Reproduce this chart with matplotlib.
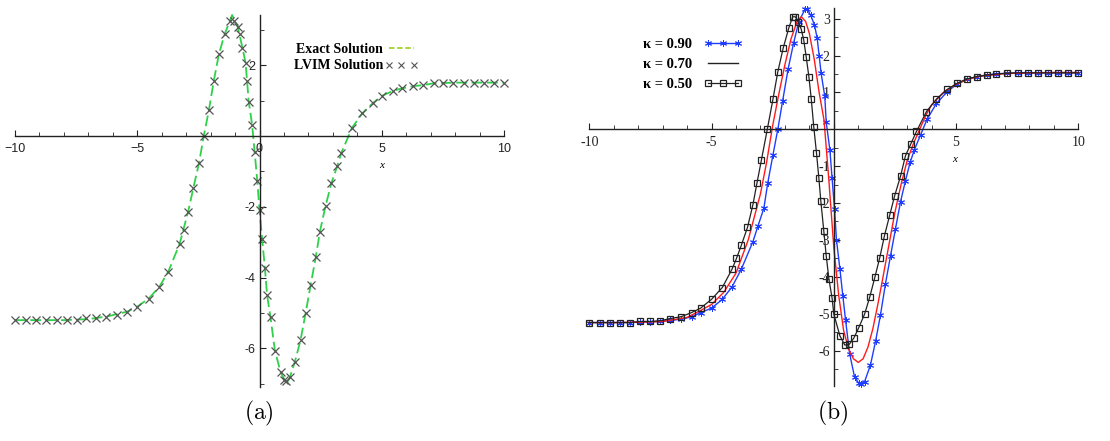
import matplotlib
matplotlib.use("Agg")
import matplotlib.pyplot as plt
from matplotlib.lines import Line2D

plt.rcParams['mathtext.fontset'] = 'cm'

# (a) exact solution vs LVIM solution
lvim_x = [-9.98, -9.57, -9.16, -8.75, -8.28, -7.87, -7.46, -7.08, -6.67, -6.26,
          -5.82, -5.41, -5.0, -4.53, -4.10, -3.73, -3.27, -3.10, -2.92, -2.71,
          -2.47, -2.28, -2.07, -1.87, -1.66, -1.43, -1.19, -1.05, -0.89, -0.78,
          -0.70, -0.57, -0.50, -0.44, -0.30, -0.20, -0.09, 0.0, 0.11, 0.22,
          0.31, 0.45, 0.63, 0.86, 1.02, 1.10, 1.24, 1.45, 1.68, 1.89,
          2.09, 2.30, 2.47, 2.70, 2.94, 3.18, 3.35, 3.79, 4.20, 4.65,
          5.02, 5.47, 5.84, 6.29, 6.70, 7.13, 7.51, 7.91, 8.36, 8.77,
          9.17, 9.58, 10.0]
lvim_y = [-5.20, -5.20, -5.20, -5.20, -5.20, -5.20, -5.19, -5.15, -5.13, -5.10,
          -5.06, -4.96, -4.82, -4.59, -4.26, -3.83, -3.05, -2.64, -2.14, -1.48,
          -0.75, 0.0, 0.73, 1.56, 2.31, 2.87, 3.26, 3.26, 3.09, 2.87,
          2.50, 2.07, 1.56, 0.97, 0.31, -0.44, -1.27, -2.09, -2.92, -3.72,
          -4.49, -5.12, -6.06, -6.66, -6.88, -6.92, -6.82, -6.37, -5.76, -4.99,
          -4.21, -3.43, -2.70, -1.98, -1.33, -0.85, -0.47, 0.24, 0.64, 0.94,
          1.14, 1.28, 1.35, 1.41, 1.44, 1.49, 1.51, 1.51, 1.51, 1.51,
          1.51, 1.51, 1.51]

exact_x = [-10.0, -9.0, -8.0, -7.0, -6.26, -5.41, -5.0, -4.53, -4.10, -3.73,
           -3.27, -2.92, -2.71, -2.47, -2.28, -2.07, -1.87, -1.66, -1.43, -1.12,
           -0.89, -0.70, -0.57, -0.44, -0.30, -0.20, -0.09, 0.0, 0.11, 0.22,
           0.31, 0.45, 0.63, 0.86, 1.10, 1.24, 1.45, 1.68, 1.89, 2.09,
           2.30, 2.47, 2.70, 2.94, 3.18, 3.35, 3.79, 4.20, 4.65, 5.02,
           5.47, 5.84, 6.29, 6.70, 7.13, 8.0, 9.0, 10.0]
exact_y = [-5.20, -5.20, -5.20, -5.17, -5.10, -4.96, -4.82, -4.59, -4.26, -3.83,
           -3.05, -2.14, -1.48, -0.75, 0.0, 0.73, 1.56, 2.31, 2.87, 3.42,
           3.09, 2.50, 2.07, 0.97, 0.31, -0.44, -1.27, -2.09, -2.92, -3.72,
           -4.49, -5.12, -6.06, -6.66, -7.0, -6.82, -6.37, -5.76, -4.99, -4.21,
           -3.43, -2.70, -1.98, -1.33, -0.85, -0.47, 0.24, 0.64, 0.94, 1.14,
           1.28, 1.35, 1.41, 1.44, 1.49, 1.51, 1.51, 1.51]

# (b) solutions for several kappa
k90_x = [-10.02, -9.58, -9.17, -8.76, -8.34, -7.91, -7.50, -7.09, -6.68, -6.24,
         -5.79, -5.45, -5.00, -4.56, -4.16, -3.78, -3.31, -3.10, -2.86, -2.70,
         -2.49, -2.29, -2.09, -1.87, -1.64, -1.43, -1.18, -1.09, -0.95, -0.79,
         -0.68, -0.60, -0.52, -0.37, -0.31, -0.16, -0.07, 0.03, 0.11, 0.25,
         0.37, 0.48, 0.65, 0.85, 1.02, 1.13, 1.26, 1.50, 1.71, 1.91,
         2.11, 2.32, 2.52, 2.73, 2.93, 3.12, 3.30, 3.55, 3.82, 4.20,
         4.64, 5.05, 5.43, 5.86, 6.25, 6.65, 7.09, 7.54, 7.94, 8.34,
         8.75, 9.16, 9.57, 10.0]
k90_y = [-5.24, -5.24, -5.24, -5.24, -5.24, -5.23, -5.22, -5.21, -5.18, -5.15,
         -5.08, -4.97, -4.85, -4.61, -4.27, -3.79, -3.05, -2.62, -2.14, -1.45,
         -0.70, 0.0, 0.78, 1.63, 2.35, 2.92, 3.25, 3.25, 3.10, 2.83,
         2.47, 2.00, 1.52, 0.90, 0.19, -0.56, -1.33, -2.17, -3.00, -3.79,
         -4.52, -5.17, -6.09, -6.72, -6.88, -6.90, -6.84, -6.39, -5.74, -5.03,
         -4.20, -3.43, -2.71, -1.96, -1.40, -0.90, -0.55, -0.15, 0.28, 0.70,
         1.02, 1.23, 1.35, 1.43, 1.47, 1.50, 1.52, 1.53, 1.53, 1.53,
         1.53, 1.53, 1.53, 1.53]

k70_x = [-10.0, -9.0, -8.0, -7.0, -6.0, -5.5, -5.0, -4.5, -4.0, -3.5,
         -3.0, -2.75, -2.5, -2.25, -2.0, -1.75, -1.5, -1.33, -1.15, -1.0,
         -0.8, -0.6, -0.4, -0.2, 0.0, 0.2, 0.4, 0.6, 0.8, 1.0,
         1.2, 1.4, 1.6, 1.8, 2.0, 2.25, 2.5, 2.75, 3.0, 3.25,
         3.5, 3.75, 4.0, 4.5, 5.0, 5.5, 6.0, 7.0, 8.0, 9.0, 10.0]
k70_y = [-5.24, -5.24, -5.23, -5.21, -5.10, -4.93, -4.75, -4.42, -3.90, -3.00,
         -1.75, -0.90, 0.10, 0.95, 1.75, 2.45, 2.93, 3.05, 2.92, 2.60,
         1.90, 1.00, 0.25, -1.40, -3.20, -4.50, -5.45, -5.95, -6.22, -6.32,
         -6.22, -5.90, -5.40, -4.75, -4.05, -3.15, -2.25, -1.50, -0.85, -0.40,
         -0.02, 0.36, 0.66, 1.01, 1.22, 1.36, 1.44, 1.51, 1.53, 1.54, 1.54]

k50_x = [-10.02, -9.58, -9.17, -8.76, -8.34, -7.91, -7.50, -7.09, -6.68, -6.24,
         -5.82, -5.45, -5.00, -4.56, -4.16, -3.98, -3.78, -3.53, -3.31, -3.14,
         -2.96, -2.72, -2.49, -2.29, -2.07, -1.84, -1.68, -1.57, -1.46, -1.33,
         -1.23, -1.13, -1.02, -0.92, -0.82, -0.71, -0.61, -0.53, -0.41, -0.31,
         -0.20, -0.07, 0.0, 0.25, 0.45, 0.63, 0.82, 1.02, 1.26, 1.47,
         1.68, 1.88, 2.07, 2.29, 2.49, 2.73, 2.93, 3.14, 3.38, 3.79,
         4.20, 4.64, 5.05, 5.43, 5.86, 6.25, 6.65, 7.09, 7.54, 7.94,
         8.34, 8.75, 9.16, 9.57, 10.0]
k50_y = [-5.24, -5.24, -5.24, -5.24, -5.24, -5.21, -5.21, -5.19, -5.13, -5.08,
         -4.97, -4.85, -4.61, -4.29, -3.79, -3.50, -3.14, -2.66, -2.05, -1.45,
         -0.83, 0.0, 0.81, 1.56, 2.20, 2.75, 3.05, 3.05, 2.92, 2.71,
         2.42, 1.97, 1.43, 0.81, 0.07, -0.63, -1.33, -1.95, -2.75, -3.43,
         -4.06, -4.58, -5.01, -5.60, -5.85, -5.83, -5.66, -5.38, -5.01, -4.55,
         -4.01, -3.48, -2.89, -2.32, -1.80, -1.27, -0.72, -0.41, -0.06, 0.48,
         0.82, 1.08, 1.25, 1.36, 1.43, 1.47, 1.50, 1.52, 1.53, 1.53,
         1.53, 1.53, 1.53, 1.53, 1.53]

W, H = 1110, 441
fig = plt.figure(figsize=(W / 100, H / 100), dpi=100)

def px_axes(left, right, top, bottom):
    return fig.add_axes([left / W, 1 - bottom / H, (right - left) / W, (bottom - top) / H])

def maple_axes(ax, xmin, xmax, ymin, ymax, yticks, ymin_ticks, font, fsize):
    ax.set_xlim(xmin, xmax)
    ax.set_ylim(ymin, ymax)
    for s in ['top', 'right']:
        ax.spines[s].set_visible(False)
    for s in ['left', 'bottom']:
        ax.spines[s].set_position(('data', 0))
        ax.spines[s].set_linewidth(1.0)
        ax.spines[s].set_color('#222222')
    ax.set_xticks([-10, -5, 0, 5, 10])
    ax.set_xticks(range(-10, 11), minor=True)
    ax.set_yticks(yticks)
    ax.set_yticks(ymin_ticks, minor=True)
    ax.tick_params(which='both', direction='in', colors='#222222')
    ax.tick_params(which='major', length=4)
    ax.tick_params(which='minor', length=3)
    ax.tick_params(axis='x', pad=5)
    ax.tick_params(axis='y', pad=3)
    for lab in ax.get_xticklabels() + ax.get_yticklabels():
        lab.set_fontfamily(font)
        lab.set_fontsize(fsize)
    ax.patch.set_visible(False)

# ---- (a) ----
ax1 = px_axes(15, 504, 15, 386.7)
maple_axes(ax1, -10, 10, -7.08, 3.42, [2, -2, -4, -6], [3, 1, -1, -3, -5, -7],
           'Liberation Sans', 9)
ax1.set_xticklabels(['\u221210', '\u22125', '0', '5', '10'])
ax1.set_yticklabels(['2', '-2', '-4', '-6'])
ax1.plot(exact_x, exact_y, color='#2fd14a', lw=1.3, dashes=(6, 2.5), clip_on=False)
ax1.plot(lvim_x, lvim_y, ls='none', marker='x', ms=6, mew=0.9, color='#555555',
         clip_on=False)
ax1.text(5, -0.82, 'x', fontsize=8, style='italic', family='Liberation Serif',
         ha='center', va='center')
h_exact = Line2D([], [], color='#9ed428', lw=1.3, dashes=(3, 1.5))
h_lvim = Line2D([], [], ls='none', marker='x', ms=4.5, mew=0.8, color='#555555')
ax1.legend([h_exact, h_lvim], ['Exact Solution', 'LVIM Solution'],
           loc='upper left', bbox_to_anchor=((287 - 15) / 489, 1 - (36 - 15) / 371.7),
           frameon=False, markerfirst=False, numpoints=3, borderpad=0,
           handletextpad=0.1, handlelength=2.4, labelspacing=0.25,
           prop={'family': 'Liberation Serif', 'weight': 'bold', 'size': 10})

# ---- (b) ----
ax2 = px_axes(589.3, 1078.3, 8.3, 386)
maple_axes(ax2, -10, 10, -6.96, 3.28, [3, 2, 1, -1, -2, -3, -4, -5, -6],
           [2.5, 1.5, 0.5, -0.5, -1.5, -2.5, -3.5, -4.5, -5.5, -6.5],
           'Liberation Serif', 10)
ax2.set_xticklabels(['-10', '-5', '', '5', '10'])
ax2.set_yticklabels(['3', '2', '1', '-1', '-2', '-3', '-4', '-5', '-6'])
ax2.plot(k90_x, k90_y, color='#1f3dff', lw=1.0, marker=(6, 2, 0), ms=5, mew=0.7,
         clip_on=False)
ax2.plot(k70_x, k70_y, color='#ff1a1a', lw=1.0, clip_on=False)
ax2.plot(k50_x, k50_y, color='#222222', lw=0.9, marker='s', ms=4.5, mfc='none',
         mew=0.9, clip_on=False)
ax2.text(4.95, -0.83, 'x', fontsize=8, style='italic', family='Liberation Serif',
         ha='center', va='center')
h90 = Line2D([], [], color='#1f3dff', lw=1.0, marker=(6, 2, 0), ms=5, mew=0.7)
h70 = Line2D([], [], color='#222222', lw=1.0)
h50 = Line2D([], [], color='#222222', lw=0.9, marker='s', ms=4.5, mfc='none', mew=0.9)
ax2.legend([h90, h70, h50], ['\u03ba = 0.90', '\u03ba = 0.70', '\u03ba = 0.50'],
           loc='upper left', bbox_to_anchor=((636 - 589.3) / 489, 1 - (31 - 8.3) / 377.7),
           frameon=False, markerfirst=False, numpoints=3, borderpad=0,
           handletextpad=0.8, handlelength=2.6, labelspacing=0.45,
           prop={'family': 'Liberation Serif', 'weight': 'bold', 'size': 10.5})

fig.text(259 / W, 1 - 413 / H, r'$\mathrm{(a)}$', fontsize=17, ha='center', va='center')
fig.text(833 / W, 1 - 413 / H, r'$\mathrm{(b)}$', fontsize=17, ha='center', va='center')

fig.savefig('out.png', dpi=100)
